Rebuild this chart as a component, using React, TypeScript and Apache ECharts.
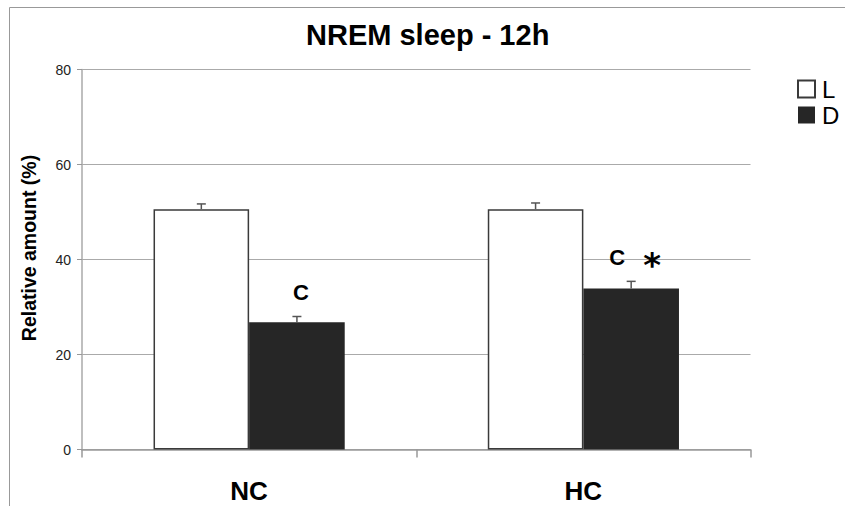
import React, { useEffect, useRef } from 'react';
import * as echarts from 'echarts';

// Groups on the x axis
const categories = ['NC', 'HC'];
// Series names (light / dark phase)
const seriesNames = ['L', 'D'];
// Mean relative amount (%) and SEM for each phase
const lightMean = [50.6, 50.6];
const lightSem = [1.1, 1.3];
const darkMean = [26.8, 33.9];
const darkSem = [1.2, 1.5];
// Significance marks drawn above the dark bars
const darkLetters = ['C', 'C'];
const darkStars = ['', '*'];
// Y axis ticks
const yMin = 0;
const yMax = 80;
const yStep = 20;

const BAR_FRACTION = 0.286;
const FONT = "'Liberation Sans', Arial, Helvetica, sans-serif";

export default function App() {
  const ref = useRef<HTMLDivElement>(null);

  useEffect(() => {
    if (!ref.current) return;
    const chart = echarts.init(ref.current, null, { renderer: 'svg' });

    const errorData: number[][] = [];
    categories.forEach((_, i) => {
      errorData.push([i, lightMean[i], lightSem[i], -1]);
      errorData.push([i, darkMean[i], darkSem[i], 1]);
    });

    const option: any = {
      animation: false,
      backgroundColor: '#ffffff',
      textStyle: { fontFamily: FONT },
      title: {
        text: 'NREM sleep - 12h',
        left: 306,
        top: 20,
        padding: 0,
        textStyle: { fontSize: 29, fontWeight: 'bold', color: '#000', fontFamily: FONT },
      },
      legend: {
        data: seriesNames,
        orient: 'vertical',
        left: 792,
        top: 72,
        itemWidth: 17,
        itemHeight: 17,
        itemGap: 2,
        icon: 'rect',
        textStyle: { fontSize: 24, lineHeight: 24, color: '#000', fontFamily: FONT, padding: [0, 0, 0, 2] },
      },
      grid: { left: 82, right: 94.5, top: 69.5, bottom: 56.5, containLabel: false },
      xAxis: {
        type: 'category',
        data: categories,
        axisLine: { lineStyle: { color: '#999', width: 1.5 } },
        axisTick: { show: true, length: 8, lineStyle: { color: '#999', width: 1.5 } },
        axisLabel: { fontSize: 26, fontWeight: 'bold', color: '#000', margin: 28, fontFamily: FONT },
        splitLine: { show: false },
      },
      yAxis: {
        type: 'value',
        min: yMin,
        max: yMax,
        interval: yStep,
        axisLine: { show: true, lineStyle: { color: '#aaa', width: 1.5 } },
        axisTick: { show: true, length: 5, lineStyle: { color: '#999', width: 1 } },
        axisLabel: { fontSize: 14, color: '#222', margin: 11, fontFamily: FONT },
        splitLine: { show: true, lineStyle: { color: '#aaa', width: 1 } },
      },
      graphic: [
        {
          type: 'rect',
          shape: { x: 9.5, y: 7.5, width: 1000, height: 1000 },
          style: { fill: 'none', stroke: '#999', lineWidth: 1 },
          silent: true,
          z: -1,
        },
        {
          type: 'text',
          x: 29,
          y: 248,
          rotation: Math.PI / 2,
          style: {
            text: 'Relative amount (%)',
            fontSize: 19.5,
            fontWeight: 'bold',
            fontFamily: FONT,
            fill: '#000',
            textAlign: 'center',
            textVerticalAlign: 'middle',
          },
        },
      ],
      series: [
        {
          name: seriesNames[0],
          type: 'bar',
          data: lightMean,
          barWidth: (BAR_FRACTION * 100).toFixed(1) + '%',
          barGap: '0%',
          itemStyle: { color: '#ffffff', borderColor: '#3a3a3a', borderWidth: 1.5 },
        },
        {
          name: seriesNames[1],
          type: 'bar',
          barWidth: (BAR_FRACTION * 100).toFixed(1) + '%',
          barGap: '0%',
          itemStyle: { color: '#262626' },
          data: darkMean.map((v, i) => ({
            value: v,
            label: {
              show: true,
              position: 'top',
              offset: [4, 0],
              distance: darkStars[i] ? 6 : 19,
              formatter: darkStars[i]
                ? '{c|' + darkLetters[i] + '}{s|' + darkStars[i] + '}'
                : '{c|' + darkLetters[i] + '}',
              rich: {
                c: { fontSize: 22, fontWeight: 'bold', color: '#000', fontFamily: FONT },
                s: {
                  fontSize: 34,
                  fontWeight: 'bold',
                  color: '#000',
                  fontFamily: "'DejaVu Sans', sans-serif",
                  padding: [15, 0, 0, 18],
                },
              },
            },
          })),
        },
        {
          type: 'custom',
          silent: true,
          z: 10,
          data: errorData,
          encode: { x: 0, y: 1 },
          renderItem: (params: any, api: any) => {
            const idx = api.value(0);
            const mean = api.value(1);
            const sem = api.value(2);
            const side = api.value(3);
            const band = api.size([1, 0])[0];
            const half = (band * BAR_FRACTION) / 2;
            const base = api.coord([idx, mean]);
            const top = api.coord([idx, mean + sem]);
            const x = base[0] + side * half;
            const style = { stroke: '#555', lineWidth: 1.5 };
            return {
              type: 'group',
              children: [
                { type: 'line', shape: { x1: x, y1: base[1], x2: x, y2: top[1] }, style },
                { type: 'line', shape: { x1: x - 4.5, y1: top[1], x2: x + 4.5, y2: top[1] }, style },
              ],
            };
          },
        },
      ],
    };

    chart.setOption(option);
    return () => chart.dispose();
  }, []);

  return (
    <div
      ref={ref}
      style={{ position: 'absolute', left: 0, top: 0, width: 845, height: 506 }}
    />
  );
}
